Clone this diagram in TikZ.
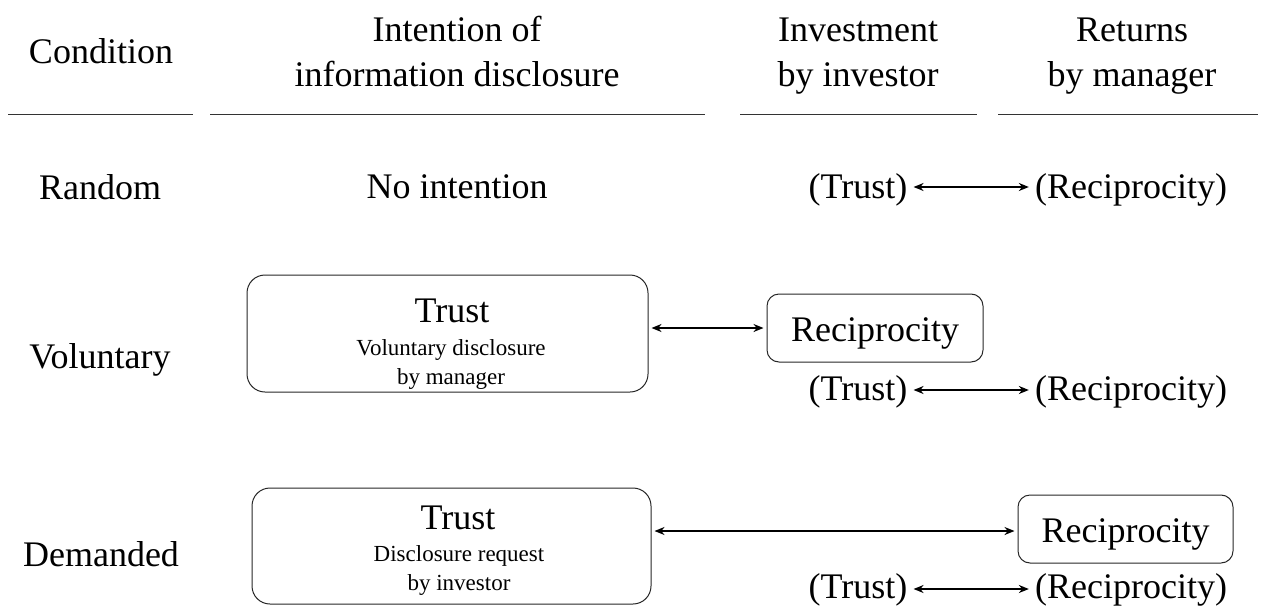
\documentclass[tikz,border=0pt]{standalone}
\usepackage{fontspec}
\setmainfont{Liberation Serif}
\usetikzlibrary{arrows.meta}
\tikzset{
  big/.style={font=\fontsize{36}{45}\selectfont, align=center, inner sep=3pt},
  small/.style={font=\fontsize{23}{29}\selectfont, align=center, inner sep=0pt},
  rule/.style={line width=1pt, draw=black!80},
  rbox/.style={draw=black!85, line width=1pt, rounded corners=18pt},
  arr/.style={line width=2pt, {Stealth[length=10pt,width=8pt]}-{Stealth[length=10pt,width=8pt]}, shorten <=3pt, shorten >=3pt},
}
\begin{document}
\begin{tikzpicture}[x=1pt,y=-1pt]
\useasboundingbox (0,0) rectangle (1265,610);
% headers
\node[big] (hc) at (101,51) {Condition};
\node[big] (hi) at (457,52) {Intention of\\information disclosure};
\node[big] (hv) at (858,56) {Investment\\by investor};
\node[big] (hr) at (1132,56) {Returns\\by manager};
\coordinate (l1a) at (8,114); \coordinate (l1b) at (193,114);
\coordinate (l2a) at (210,114); \coordinate (l2b) at (705,114);
\coordinate (l3a) at (740,114); \coordinate (l3b) at (977,114);
\coordinate (l4a) at (998,114); \coordinate (l4b) at (1258,114);
\draw[rule] (l1a) -- (l1b);
\draw[rule] (l2a) -- (l2b);
\draw[rule] (l3a) -- (l3b);
\draw[rule] (l4a) -- (l4b);
% row 1
\node[big] (c1) at (100,187) {Random};
\node[big] (n1) at (457,187) {No intention};
\node[big] (t1) at (858,190) {(Trust)};
\node[big] (r1) at (1131,190) {(Reciprocity)};
\draw[arr, line width=1.8pt] ([yshift=3pt]t1.east) -- ([yshift=3pt]r1.west);
% row 2
\node[big] (c2) at (100,360) {Voluntary};
\node[rbox, minimum width=401pt, minimum height=117pt] (b1) at (447.5,333.5) {};
\node[big] (b1t) at (452,311) {Trust};
\node[small] (b1s) at (451,350) {Voluntary disclosure};
\node[small] (b1m) at (451,379) {by manager};
\node[rbox, big, minimum width=216pt, minimum height=68pt, rounded corners=12pt, text depth=0pt, text height=26pt] (b2) at (875,328) {Reciprocity};
\draw[arr] (b1.east |- b2.west) -- (b2.west);
\node[big] (t2) at (858,392) {(Trust)};
\node[big] (r2) at (1131,392) {(Reciprocity)};
\draw[arr, line width=1.6pt] ([yshift=2pt]t2.east) -- ([yshift=2pt]r2.west);
% row 3
\node[big] (c3) at (101,554) {Demanded};
\node[rbox, minimum width=399pt, minimum height=116pt] (b3) at (451.5,546) {};
\node[big] (b3t) at (458,518) {Trust};
\node[small] (b3s) at (459,556) {Disclosure request};
\node[small] (b3m) at (459,585) {by investor};
\node[rbox, big, minimum width=215pt, minimum height=68pt, rounded corners=12pt, text depth=0pt, text height=26pt] (b4) at (1125.5,529) {Reciprocity};
\draw[arr, line width=1.6pt] ([yshift=-2pt]b3.east |- b4.west) -- ([yshift=-2pt]b4.west);
\node[big] (t3) at (858,590) {(Trust)};
\node[big] (r3) at (1131,590) {(Reciprocity)};
\draw[arr, line width=1.6pt] ([yshift=1pt]t3.east) -- ([yshift=1pt]r3.west);
\end{tikzpicture}
\end{document}
